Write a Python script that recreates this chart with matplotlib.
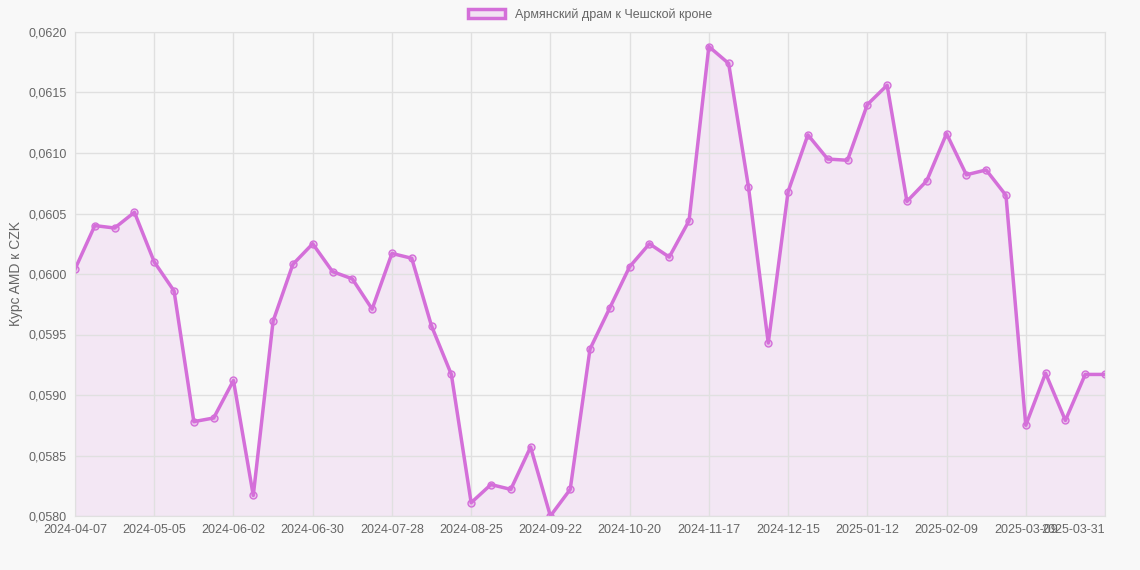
import matplotlib
matplotlib.use("Agg")
import matplotlib.pyplot as plt
import pandas as pd

plt.rcParams['font.family'] = ['Liberation Sans', 'DejaVu Sans']

dates = list(pd.date_range("2024-04-07", periods=52, freq="7D").strftime("%Y-%m-%d")) + ["2025-03-31"]
values = [0.06004,0.06040,0.06038,0.06051,0.06010,0.05986,0.05878,0.05881,0.05912,0.05817,
          0.05961,0.06008,0.06025,0.06002,0.05996,0.05971,0.06017,0.06013,0.05957,0.05917,
          0.05811,0.05826,0.05822,0.05857,0.05800,0.05822,0.05938,0.05972,0.06006,0.06025,
          0.06014,0.06044,0.06188,0.06174,0.06072,0.05943,0.06068,0.06115,0.06095,0.06094,
          0.06140,0.06156,0.06060,0.06077,0.06116,0.06082,0.06086,0.06065,0.05875,0.05918,
          0.05879,0.05917,0.05917]
label = "Армянский драм к Чешской кроне"
color = "#d46fd9"

W, H = 1140, 570
fig = plt.figure(figsize=(W/100, H/100), dpi=100, facecolor="#f8f8f8")
ax = fig.add_axes([75/W, 1-516/H, 1030/W, 484/H], facecolor="#f8f8f8")
x = list(range(len(values)))
ax.fill_between(x, values, 0.058, color=color, alpha=0.12, lw=0)
ax.plot(x, values, color=color, lw=2.5, marker="o", ms=5, mfc=(0.83,0.44,0.85,0.3), mec=color, mew=1, label=label)
ax.set_xlim(0, len(values)-1)
ax.set_ylim(0.058, 0.062)
yt = [0.058 + 0.0005*i for i in range(9)]
ax.set_yticks(yt)
ax.set_yticklabels([f"{v:.4f}".replace(".", ",") for v in yt])
xt = list(range(0, 49, 4)) + [52]
ax.set_xticks(xt)
ax.set_xticklabels([dates[i] for i in xt])
ax.get_xticklabels()[-1].set_horizontalalignment("right")
ax.get_xticklabels()[-1].set_x(52)
ax.grid(True, color="#e0e0e0", lw=1)
for s in ax.spines.values():
    s.set_color("#e0e0e0")
ax.tick_params(colors="#666666", labelsize=9, length=0, pad=6)
ax.set_ylabel("Курс AMD к CZK", color="#666666", fontsize=10)
ax.legend(loc="lower center", bbox_to_anchor=(0.5, 1.0), frameon=False, fontsize=9,
          handlelength=3, labelcolor="#666666",
          handles=[plt.Rectangle((0,0),1,1, fc=(0.83,0.44,0.85,0.15), ec=color, lw=2.5)], labels=[label])
fig.savefig("out.png", dpi=100, facecolor=fig.get_facecolor())
